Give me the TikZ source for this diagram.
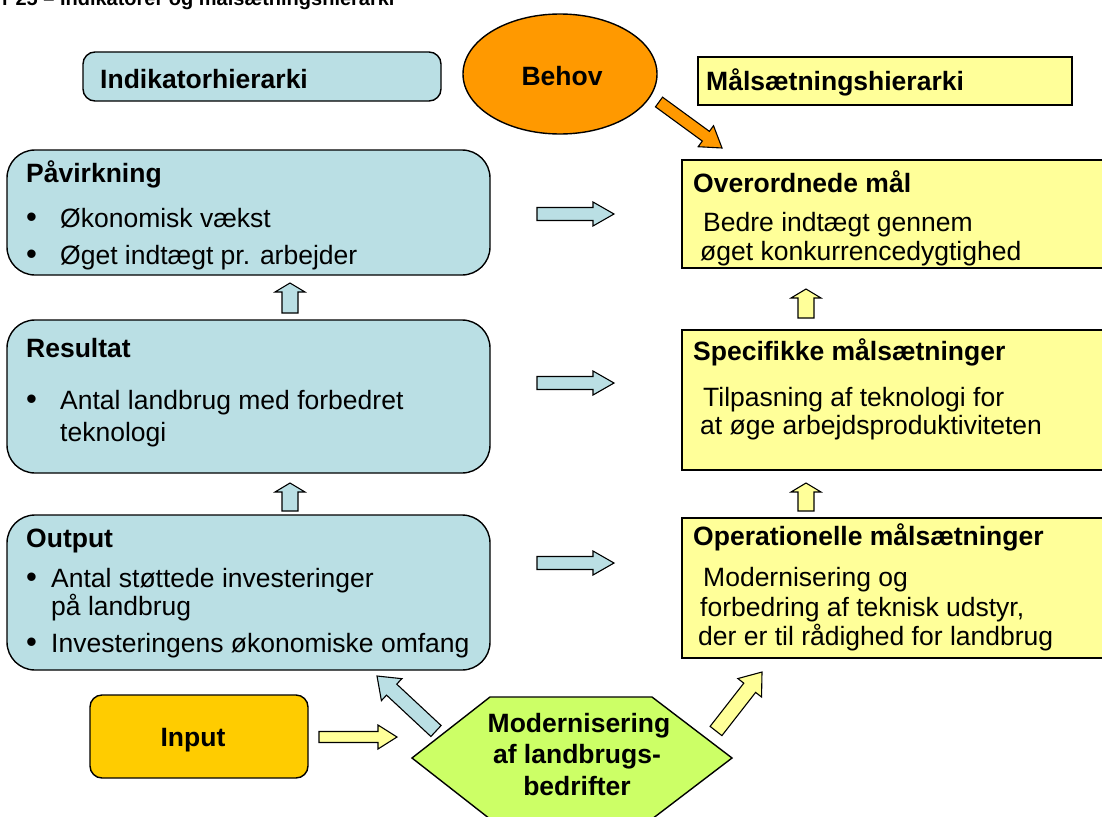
\documentclass[tikz,border=0pt]{standalone}
\usepackage{fontspec}
\setmainfont{Liberation Sans}
\usetikzlibrary{calc,shapes.geometric}
\definecolor{lblue}{RGB}{186,223,228}
\definecolor{lyellow}{RGB}{255,255,153}
\definecolor{orng}{RGB}{255,153,0}
\definecolor{gold}{RGB}{255,204,0}
\definecolor{lgreen}{RGB}{204,255,102}
\newcommand\blockarrow[6]{%
  \path ($(#2)!#5!(#1)$) coordinate (ba-h);
  \draw[arrowline,#6] ($(#1)!#3!90:(#2)$) -- ($(ba-h)!#3!90:(#2)$) -- ($(ba-h)!#4!90:(#2)$) -- (#2)
    -- ($(ba-h)!#4!-90:(#2)$) -- ($(ba-h)!#3!-90:(#2)$) -- ($(#1)!#3!-90:(#2)$) -- cycle;}
\tikzset{
  box/.style={draw=black, line width=1.4pt, inner sep=0pt},
  lbox/.style={box, fill=lblue, rounded corners=28pt},
  rbox/.style={box, fill=lyellow},
  arrowline/.style={draw=black, line width=1.1pt, line join=miter},
  txt/.style={anchor=base west, inner sep=0pt, font=\fontsize{26.5}{31}\selectfont},
  bul/.style={anchor=base west, inner sep=0pt, font=\fontsize{31}{31}\selectfont},
  hd/.style={anchor=base west, inner sep=0pt, font=\fontsize{26.5}{31}\selectfont\bfseries},
  hdc/.style={anchor=base, inner sep=0pt, font=\fontsize{26.5}{31}\selectfont\bfseries},
}
\begin{document}
\begin{tikzpicture}[x=1pt,y=-1pt]
\clip (0,0) rectangle (1102,816);
\fill[white] (0,0) rectangle (1102,816);
% title (cut off at top)
\node[anchor=base west, inner sep=0pt, font=\fontsize{20}{24}\selectfont\bfseries] (title) at (2,6) {r 25 – Indikatorer og målsætningshierarki};
% top row
\node[box, fill=lblue, rounded corners=12pt, minimum width=358pt, minimum height=49pt] (indik) at (262,76.5) {};
\node[hd] (indikT) at (100,88) {Indikatorhierarki};
\node[box, fill=orng, ellipse, minimum width=194pt, minimum height=120pt] (behov) at (560,74) {};
\node[hdc] (behovT) at (562,85) {Behov};
\node[rbox, minimum width=374pt, minimum height=48pt] (maal) at (885,81) {};
\node[hd] (maalT) at (706,90) {Målsætningshierarki};
% left column
\node[lbox, minimum width=483pt, minimum height=125pt] (pav) at (248.5,212.5) {};
\node[hd] (pavT) at (26,182) {Påvirkning};
\node[bul] (pavB1) at (26,227) {•};
\node[txt] (pavL1) at (60,227) {Økonomisk vækst};
\node[bul] (pavB2) at (26,264) {•};
\node[txt] (pavL2) at (60,264) {Øget indtægt pr. arbejder};
\node[lbox, minimum width=483pt, minimum height=153pt] (res) at (248.5,396.5) {};
\node[hd] (resT) at (26,357) {Resultat};
\node[bul] (resB1) at (26,409) {•};
\node[txt] (resL1) at (60,409) {Antal landbrug med forbedret};
\node[txt] (resL2) at (60,441) {teknologi};
\node[lbox, minimum width=483pt, minimum height=155pt] (out) at (248.5,592.5) {};
\node[hd] (outT) at (26,547) {Output};
\node[bul] (outB1) at (26,587) {•};
\node[txt] (outL1) at (51,587) {Antal støttede investeringer};
\node[txt] (outL2) at (51,615) {på landbrug};
\node[bul] (outB2) at (26,652) {•};
\node[txt] (outL3) at (51,652) {Investeringens økonomiske omfang};
% right column
\node[rbox, minimum width=428pt, minimum height=108pt] (over) at (896,214) {};
\node[hd] (overT) at (693,192) {Overordnede mål};
\node[txt] (overL1) at (703,231) {Bedre indtægt gennem};
\node[txt] (overL2) at (700,260) {øget konkurrencedygtighed};
\node[rbox, minimum width=428pt, minimum height=140pt] (spec) at (896,400) {};
\node[hd] (specT) at (693,360) {Specifikke målsætninger};
\node[txt] (specL1) at (703,406) {Tilpasning af teknologi for};
\node[txt] (specL2) at (700,434) {at øge arbejdsproduktiviteten};
\node[rbox, minimum width=428pt, minimum height=140pt] (oper) at (896,588) {};
\node[hd] (operT) at (693,545) {Operationelle målsætninger};
\node[txt] (operL1) at (703,586) {Modernisering og};
\node[txt] (operL2) at (700,616) {forbedring af teknisk udstyr,};
\node[txt] (operL3) at (698,645) {der er til rådighed for landbrug};
% bottom
\node[box, fill=gold, rounded corners=12pt, minimum width=218pt, minimum height=83pt] (input) at (199,736.5) {};
\node[hdc] (inputT) at (193,746) {Input};
\draw[box, fill=lgreen] (490,697) coordinate (hexA) -- (652,697) -- (732,758) coordinate (hexR) -- (652,819) -- (490,819) -- (412,758) coordinate (hexL) -- cycle;
\node[hdc] (hexT1) at (579,732) {Modernisering};
\node[hdc] (hexT2) at (577,763) {af landbrugs-};
\node[hdc] (hexT3) at (577,795) {bedrifter};
% arrow end points
\coordinate (bs) at (659,102); \coordinate (be) at (722,148);
\coordinate (r1s) at (537,214); \coordinate (r1e) at (614,214);
\coordinate (r2s) at (537,383); \coordinate (r2e) at (614,383);
\coordinate (r3s) at (537,563); \coordinate (r3e) at (614,563);
\coordinate (u1s) at (290,313); \coordinate (u1e) at (290,283);
\coordinate (u2s) at (290,511); \coordinate (u2e) at (290,483);
\coordinate (v1s) at (806,318); \coordinate (v1e) at (806,289);
\coordinate (v2s) at (806,511); \coordinate (v2e) at (806,483);
\coordinate (is) at (319,737); \coordinate (ie) at (397,737);
\coordinate (ds) at (436,731); \coordinate (de) at (377,676);
\coordinate (ys) at (716,731); \coordinate (ye) at (762,672);
% arrows
\blockarrow{bs}{be}{6pt}{13pt}{20pt}{fill=orng}
\blockarrow{r1s}{r1e}{6.5pt}{12pt}{21pt}{fill=lblue}
\blockarrow{r2s}{r2e}{6.5pt}{12pt}{21pt}{fill=lblue}
\blockarrow{r3s}{r3e}{6.5pt}{12pt}{21pt}{fill=lblue}
\blockarrow{u1s}{u1e}{8pt}{15pt}{9pt}{fill=lblue}
\blockarrow{u2s}{u2e}{8pt}{15pt}{9pt}{fill=lblue}
\blockarrow{v1s}{v1e}{8pt}{15pt}{9pt}{fill=lyellow}
\blockarrow{v2s}{v2e}{8pt}{15pt}{9pt}{fill=lyellow}
\blockarrow{is}{ie}{5.5pt}{12pt}{19pt}{fill=lyellow}
\blockarrow{ds}{de}{7.5pt}{15pt}{20pt}{fill=lblue}
\blockarrow{ys}{ye}{7.5pt}{15pt}{20pt}{fill=lyellow}
\end{tikzpicture}
\end{document}
